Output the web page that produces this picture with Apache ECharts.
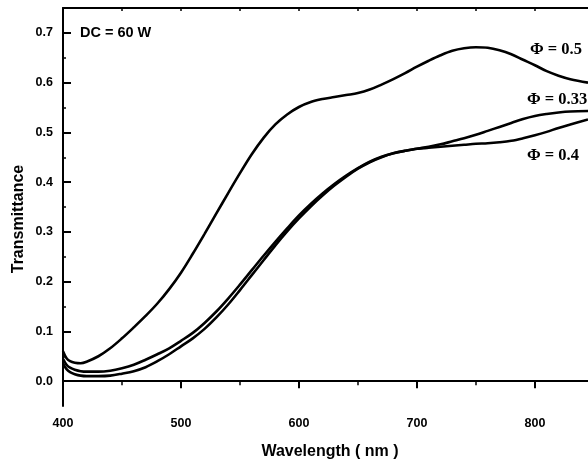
<!DOCTYPE html>
<html><head><meta charset="utf-8">
<script src="https://cdn.jsdelivr.net/npm/echarts@6/dist/echarts.min.js"></script>
<style>html,body{margin:0;padding:0;background:#fff}#c{width:588px;height:465px}</style>
</head><body><div id="c"></div>
<script>
const wavelength = [400,403,406,410,415,420,430,440,450,460,470,480,490,500,510,520,530,540,550,560,570,580,590,600,610,620,630,640,650,660,670,680,690,700,710,720,730,740,750,760,770,780,790,800,810,820,830,845];
const phi05 = [0.060,0.046,0.040,0.037,0.036,0.039,0.050,0.066,0.086,0.108,0.131,0.156,0.185,0.218,0.256,0.296,0.337,0.378,0.418,0.456,0.489,0.516,0.536,0.551,0.561,0.567,0.571,0.575,0.579,0.586,0.596,0.607,0.619,0.632,0.644,0.655,0.664,0.669,0.671,0.670,0.665,0.657,0.646,0.635,0.623,0.614,0.607,0.600];
const phi033 = [0.045,0.033,0.027,0.023,0.020,0.019,0.019,0.021,0.026,0.033,0.043,0.054,0.066,0.081,0.097,0.117,0.140,0.166,0.194,0.223,0.252,0.280,0.307,0.333,0.356,0.377,0.396,0.413,0.428,0.441,0.451,0.458,0.463,0.467,0.471,0.476,0.482,0.488,0.495,0.503,0.511,0.519,0.527,0.533,0.537,0.540,0.542,0.543];
const phi04 = [0.035,0.024,0.018,0.014,0.011,0.010,0.010,0.011,0.015,0.020,0.028,0.040,0.054,0.070,0.086,0.105,0.128,0.154,0.183,0.213,0.243,0.273,0.301,0.327,0.351,0.373,0.393,0.411,0.427,0.440,0.450,0.458,0.463,0.467,0.469,0.471,0.473,0.475,0.477,0.478,0.480,0.483,0.488,0.494,0.501,0.509,0.516,0.526];
const xMajorTicks = [400,500,600,700,800];
const xMinorTicks = [450,550,650,750];
const xTopTicks = [450,500,550,600,650,700,750,800];
const yMajorTicks = [0,0.1,0.2,0.3,0.4,0.5,0.6,0.7];
const yMinorTicks = [0.05,0.15,0.25,0.35,0.45,0.55,0.65];
const seriesNames = ['\u03A6 = 0.5','\u03A6 = 0.33','\u03A6 = 0.4'];

const chart = echarts.init(document.getElementById('c'), null, {renderer:'canvas'});
const pairs = arr => wavelength.map((w,i)=>[w,arr[i]]);
const axisFont = {fontFamily:'Liberation Sans, Arial', fontWeight:'bold', fontSize:12.5, color:'#000'};
const lineSeries = (name, arr) => ({
  name, type:'line', data:pairs(arr), smooth:0.35, showSymbol:false, symbol:'none',
  xAxisIndex:0, yAxisIndex:0,
  lineStyle:{color:'#000', width:2.6}, itemStyle:{color:'#000'}, silent:true, animation:false
});
chart.setOption({
  backgroundColor:'#fff',
  animation:false,
  grid:{left:63, right:0, top:8, bottom:59, containLabel:false},
  xAxis:[
    {type:'value', min:400, max:845, position:'bottom',
     axisLine:{show:true, lineStyle:{color:'#000', width:2}},
     axisTick:{show:true, inside:false, length:7, lineStyle:{color:'#000', width:2}, customValues:xMajorTicks},
     axisLabel:{show:true, margin:11, customValues:xMajorTicks, ...axisFont},
     splitLine:{show:false}},
    {type:'value', min:400, max:845, position:'bottom',
     axisLine:{show:false},
     axisTick:{show:true, inside:false, length:4, lineStyle:{color:'#000', width:1.5}, customValues:xMinorTicks},
     axisLabel:{show:false}, splitLine:{show:false}},
    {type:'value', min:400, max:845, position:'top',
     axisLine:{show:true, lineStyle:{color:'#000', width:2}},
     axisTick:{show:true, inside:true, length:3, lineStyle:{color:'#000', width:1.5}, customValues:xTopTicks},
     axisLabel:{show:false}, splitLine:{show:false}}
  ],
  yAxis:[
    {type:'value', min:-0.05, max:0.75, position:'left',
     axisLine:{show:true, lineStyle:{color:'#000', width:2}},
     axisTick:{show:true, inside:true, length:8, lineStyle:{color:'#000', width:2}, customValues:yMajorTicks},
     axisLabel:{show:true, margin:10, customValues:yMajorTicks, formatter:v=>v.toFixed(1), ...axisFont},
     splitLine:{show:false}},
    {type:'value', min:-0.05, max:0.75, position:'left',
     axisLine:{show:false},
     axisTick:{show:true, inside:true, length:3, lineStyle:{color:'#000', width:1.5}, customValues:yMinorTicks},
     axisLabel:{show:false}, splitLine:{show:false}}
  ],
  series:[lineSeries(seriesNames[0], phi05), lineSeries(seriesNames[1], phi033), lineSeries(seriesNames[2], phi04)],
  graphic:[
    {type:'text', left:80, top:25, style:{text:'DC = 60 W', font:'bold 14.5px "Liberation Sans", Arial', fill:'#000'}},
    {type:'text', left:530, top:41, style:{text:seriesNames[0], font:'bold 16.5px "Liberation Serif", "Times New Roman"', fill:'#000'}},
    {type:'text', left:527, top:91, style:{text:seriesNames[1], font:'bold 16.5px "Liberation Serif", "Times New Roman"', fill:'#000'}},
    {type:'text', left:527, top:147, style:{text:seriesNames[2], font:'bold 16.5px "Liberation Serif", "Times New Roman"', fill:'#000'}},
    {type:'text', x:330, y:452, style:{text:'Wavelength ( nm )', font:'bold 16px "Liberation Sans", Arial', fill:'#000', align:'center', verticalAlign:'middle'}},
    {type:'text', x:19, y:219, rotation:Math.PI/2, style:{text:'Transmittance', font:'bold 16px "Liberation Sans", Arial', fill:'#000', align:'center', verticalAlign:'middle'}}
  ]
});
</script></body></html>
